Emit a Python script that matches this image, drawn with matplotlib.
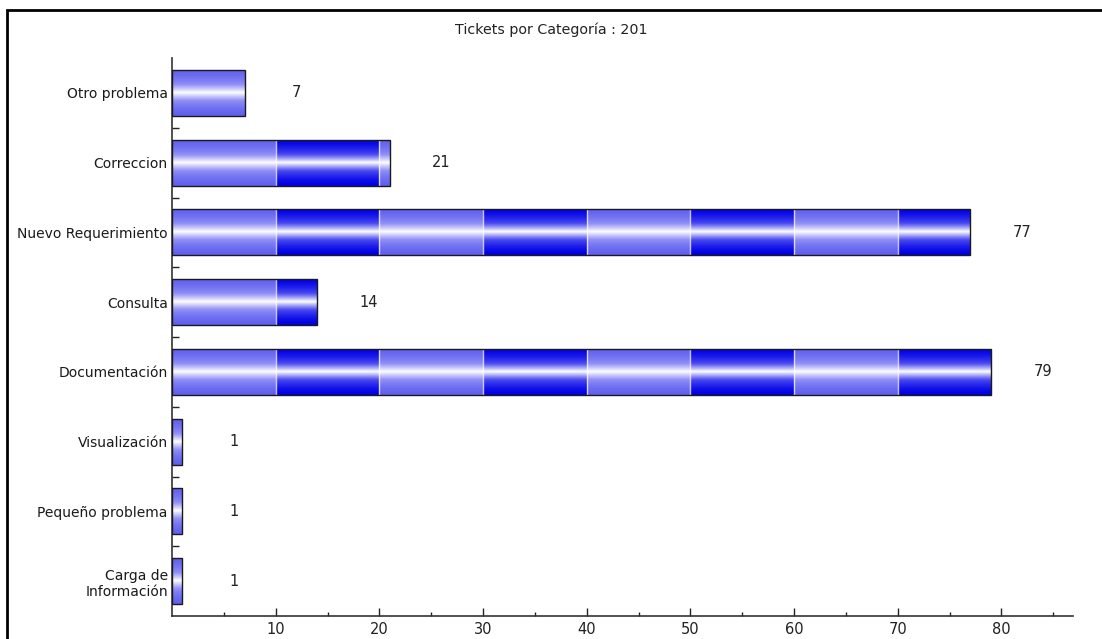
import numpy as np
import matplotlib
matplotlib.use("Agg")
import matplotlib.pyplot as plt
from matplotlib.patches import Rectangle
from matplotlib.colors import LinearSegmentedColormap

categories = ["Otro problema", "Correccion", "Nuevo Requerimiento", "Consulta",
              "Documentación", "Visualización", "Pequeño problema",
              "Carga de\nInformación"]
values = [7, 21, 77, 14, 79, 1, 1, 1]
title = "Tickets por Categoría : " + str(sum(values))

W, H = 1102, 639
fig = plt.figure(figsize=(W / 100, H / 100), dpi=100)
fig.patch.set_facecolor("white")
ax = fig.add_axes([172 / W, 1 - 616 / H, (1073 - 172) / W, (616 - 58) / H])

n = len(categories)
ypos = np.arange(n)[::-1]
bar_h = 0.66
xmax = 86.9

ax.set_xlim(0, xmax)
ax.set_ylim(-0.5, n - 0.5)

# blue -> white -> blue vertical gradient for the bar fill
cmap = LinearSegmentedColormap.from_list("barblue", ["#0000e6", "#4a4af2", "#ffffff"])
prof = np.linspace(-1, 1, 256)
grad = (1 - np.abs(prof)) ** 1.6
grad = grad[:, None]

for y, v in zip(ypos, values):
    y0, y1 = y - bar_h / 2, y + bar_h / 2
    rect = Rectangle((0, y0), v, bar_h, facecolor="none",
                     edgecolor="#1a1a1a", lw=1.0, zorder=5)
    ax.add_patch(rect)
    im = ax.imshow(grad, cmap=cmap, vmin=0, vmax=1, aspect="auto",
                   extent=(0, v, y0, y1), interpolation="bilinear", zorder=2)
    im.set_clip_path(rect)
    # lighter bands on alternating decades
    for start in range(0, int(np.ceil(v)), 20):
        band = Rectangle((start, y0), min(10, v - start), bar_h,
                         facecolor="white", alpha=0.38, lw=0, zorder=3)
        ax.add_patch(band)
    # light gridlines crossing the bar
    gx = np.arange(10, v, 10)
    if len(gx):
        ax.vlines(gx, y0, y1, color="white", alpha=0.75, lw=1, zorder=4)
    ax.text(v + 5, y, str(v), ha="center", va="center", fontsize=10.5,
            color="#222222")

ax.set_yticks(ypos)
ax.set_yticklabels(categories, fontsize=10, linespacing=1.2)
ax.set_yticks(np.arange(n - 1) + 0.5, minor=True)
ax.tick_params(axis="y", which="major", length=0, pad=3, labelcolor="#1a1a1a")
ax.tick_params(axis="y", which="minor", direction="in", length=5,
               width=1, color="#222222")

ax.set_xticks(np.arange(10, 90, 10))
ax.set_xticks(np.arange(5, 90, 10), minor=True)
ax.tick_params(axis="x", which="major", direction="in", length=6, width=1,
               labelsize=10.5, pad=4, color="#222222", labelcolor="#222222")
ax.tick_params(axis="x", which="minor", direction="in", length=3, width=1,
               color="#222222")

for s in ["top", "right"]:
    ax.spines[s].set_visible(False)
for s in ["left", "bottom"]:
    ax.spines[s].set_color("#333333")
    ax.spines[s].set_linewidth(1.2)
ax.set_facecolor("white")

fig.text(0.5, 1 - 30 / H, title, ha="center", va="center", fontsize=10.3,
         color="#222222")

frame = Rectangle((7 / W, -0.2), 1.5, 1.2 - 10 / H, transform=fig.transFigure,
                  fill=False, edgecolor="black", lw=2, zorder=10)
fig.patches.append(frame)

fig.savefig("out.png", dpi=100)
